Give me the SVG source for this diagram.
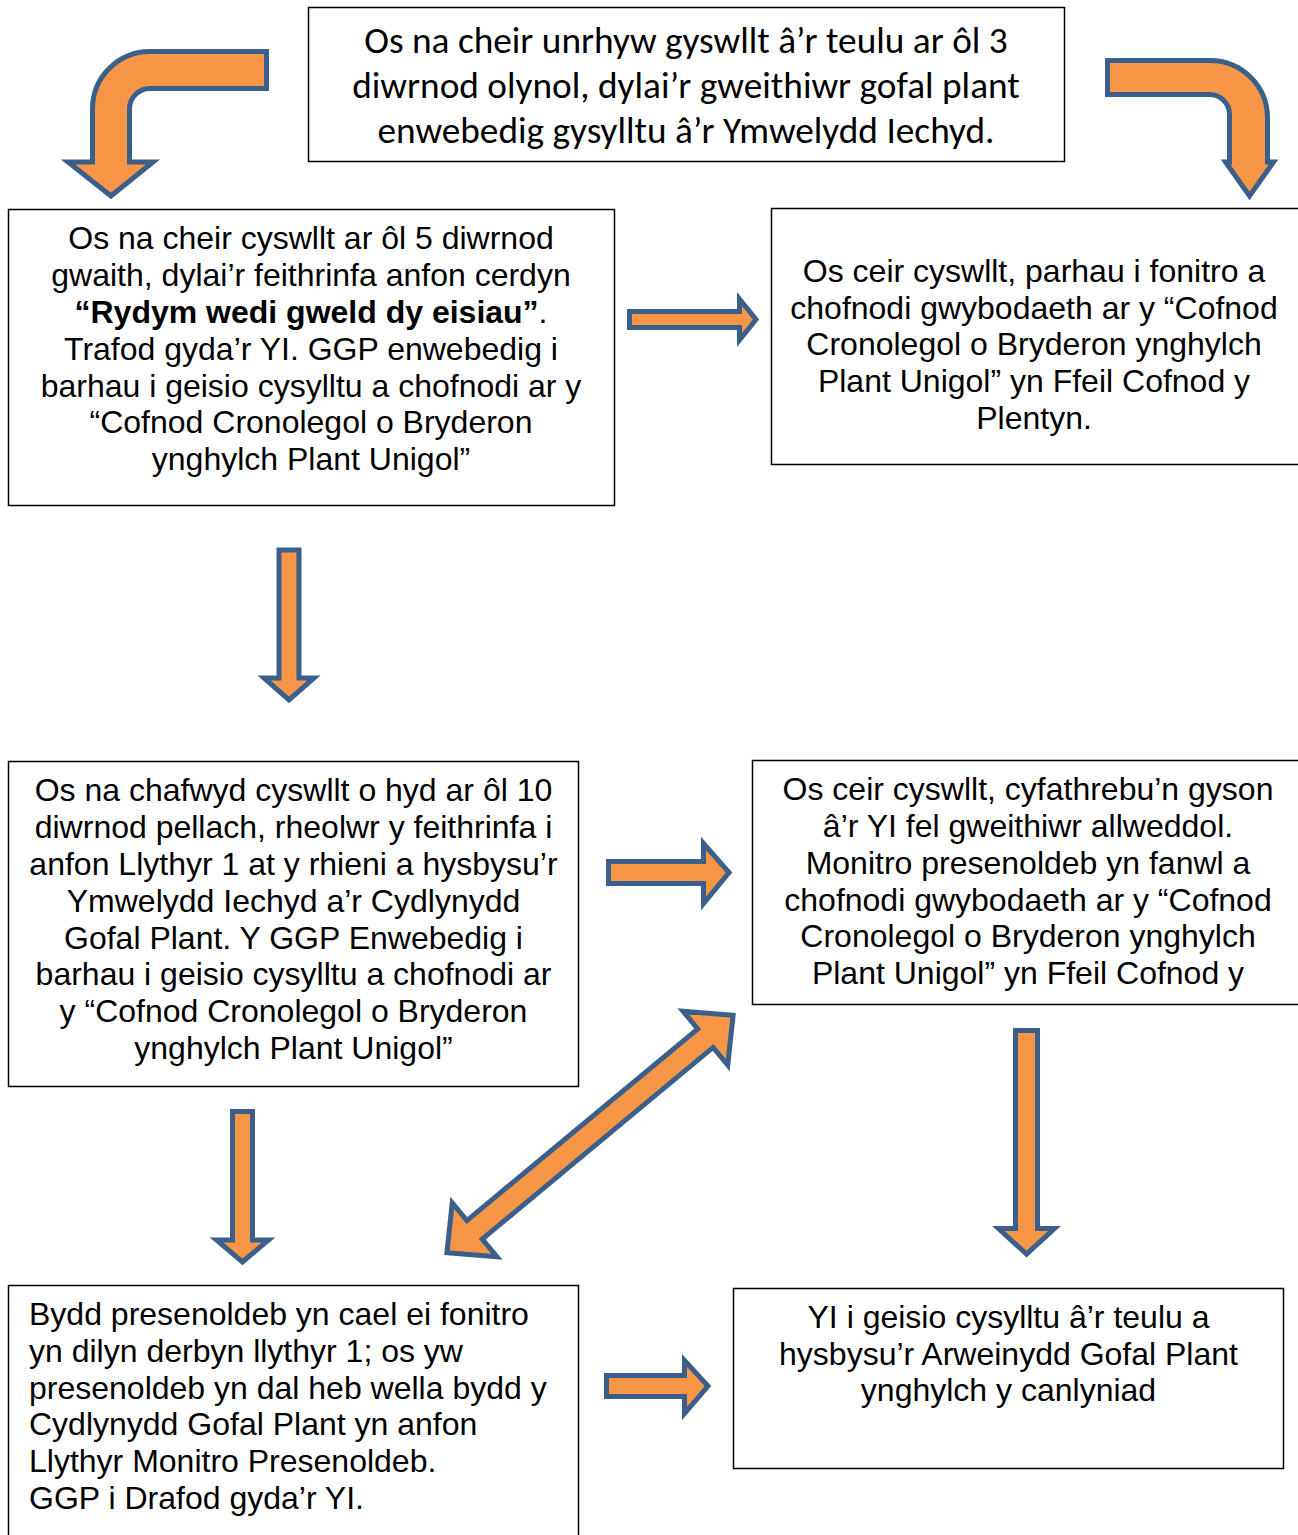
<svg xmlns="http://www.w3.org/2000/svg" width="1298" height="1535" viewBox="0 0 1298 1535">
<style>
.box{fill:#fff;stroke:#000;stroke-width:1.5}
.t{font-family:"Liberation Sans",Arial,sans-serif;font-size:32px;fill:#000}
.c{text-anchor:middle}
.cal{font-family:Carlito,Lato,"Open Sans",sans-serif;font-size:37.3px;fill:#000;text-anchor:middle}
.arr{fill:#F79646;stroke:#3A5F8B;stroke-width:5;stroke-linejoin:miter}
</style>
<rect width="1298" height="1535" fill="#fff"/>
<g id="n1">
<rect class="box" x="308.5" y="7.5" width="756" height="154"/>
<text class="cal" x="686" y="53">Os na cheir unrhyw gyswllt â’r teulu ar ôl 3</text>
<text class="cal" x="686" y="98">diwrnod olynol, dylai’r gweithiwr gofal plant</text>
<text class="cal" x="686" y="143">enwebedig gysylltu â’r Ymwelydd Iechyd.</text>
</g>
<g id="n2">
<rect class="box" x="8.5" y="209.5" width="606" height="296"/>
<text class="t c" x="311" y="249">Os na cheir cyswllt ar ôl 5 diwrnod</text>
<text class="t c" x="311" y="286">gwaith, dylai’r feithrinfa anfon cerdyn</text>
<text class="t c" x="311" y="323"><tspan font-weight="bold">“Rydym wedi gweld dy eisiau”</tspan>.</text>
<text class="t c" x="311" y="360">Trafod gyda’r YI. GGP enwebedig i</text>
<text class="t c" x="311" y="397">barhau i geisio cysylltu a chofnodi ar y</text>
<text class="t c" x="311" y="433">“Cofnod Cronolegol o Bryderon</text>
<text class="t c" x="311" y="470">ynghylch Plant Unigol”</text>
</g>
<g id="n3">
<rect class="box" x="771.5" y="208.5" width="540" height="256"/>
<text class="t c" x="1034" y="282">Os ceir cyswllt, parhau i fonitro a</text>
<text class="t c" x="1034" y="319">chofnodi gwybodaeth ar y “Cofnod</text>
<text class="t c" x="1034" y="355">Cronolegol o Bryderon ynghylch</text>
<text class="t c" x="1034" y="392">Plant Unigol” yn Ffeil Cofnod y</text>
<text class="t c" x="1034" y="429">Plentyn.</text>
</g>
<g id="n4">
<rect class="box" x="8.5" y="761.5" width="570" height="325"/>
<text class="t c" x="293.5" y="801">Os na chafwyd cyswllt o hyd ar ôl 10</text>
<text class="t c" x="293.5" y="838">diwrnod pellach, rheolwr y feithrinfa i</text>
<text class="t c" x="293.5" y="875">anfon Llythyr 1 at y rhieni a hysbysu’r</text>
<text class="t c" x="293.5" y="912">Ymwelydd Iechyd a’r Cydlynydd</text>
<text class="t c" x="293.5" y="949">Gofal Plant. Y GGP Enwebedig i</text>
<text class="t c" x="293.5" y="985">barhau i geisio cysylltu a chofnodi ar</text>
<text class="t c" x="293.5" y="1022">y “Cofnod Cronolegol o Bryderon</text>
<text class="t c" x="293.5" y="1059">ynghylch Plant Unigol”</text>
</g>
<g id="n5">
<rect class="box" x="752.5" y="760.5" width="560" height="244"/>
<text class="t c" x="1028" y="800">Os ceir cyswllt, cyfathrebu’n gyson</text>
<text class="t c" x="1028" y="837">â’r YI fel gweithiwr allweddol.</text>
<text class="t c" x="1028" y="874">Monitro presenoldeb yn fanwl a</text>
<text class="t c" x="1028" y="911">chofnodi gwybodaeth ar y “Cofnod</text>
<text class="t c" x="1028" y="947">Cronolegol o Bryderon ynghylch</text>
<text class="t c" x="1028" y="984">Plant Unigol” yn Ffeil Cofnod y</text>
</g>
<g id="n6">
<rect class="box" x="8.5" y="1285.5" width="570" height="260"/>
<text class="t" x="29" y="1325">Bydd presenoldeb yn cael ei fonitro</text>
<text class="t" x="29" y="1362">yn dilyn derbyn llythyr 1; os yw</text>
<text class="t" x="29" y="1399">presenoldeb yn dal heb wella bydd y</text>
<text class="t" x="29" y="1435">Cydlynydd Gofal Plant yn anfon</text>
<text class="t" x="29" y="1472">Llythyr Monitro Presenoldeb.</text>
<text class="t" x="29" y="1509">GGP i Drafod gyda’r YI.</text>
</g>
<g id="n7">
<rect class="box" x="733.5" y="1288.5" width="550" height="180"/>
<text class="t c" x="1008.5" y="1328">YI i geisio cysylltu â’r teulu a</text>
<text class="t c" x="1008.5" y="1365">hysbysu’r Arweinydd Gofal Plant</text>
<text class="t c" x="1008.5" y="1401">ynghylch y canlyniad</text>
</g>
<g id="connectors">
<path class="arr" d="M266.5 51.5 L150 51.5 A57.5 57.5 0 0 0 92.5 109 L92.5 162 L68 162 L111 196 L153 162 L129.5 162 L129.5 110 A20.5 20.5 0 0 1 150 88.5 L266.5 88.5 Z"/>
<path class="arr" d="M1107.5 60.5 L1210 60.5 A57.5 57.5 0 0 1 1267.5 118 L1267.5 162 L1273.5 162 L1249.5 196 L1225.5 162 L1229.5 162 L1229.5 115 A20 20 0 0 0 1209.5 94.5 L1107.5 94.5 Z"/>
<path class="arr" d="M629.5 311.5 H739.5 V299 L756 319.5 L739.5 340 V327.5 H629.5 Z"/>
<path class="arr" d="M279 550 H299 V678 H314 L289 700 L264 678 H279 Z"/>
<path class="arr" d="M608.5 861.5 H703.5 V843.5 L729 872.5 L703.5 903.5 V883.5 H608.5 Z"/>
<path class="arr" d="M232.5 1111.5 H252.5 V1240 H268.5 L242.5 1262 L216.5 1240 H232.5 Z"/>
<path class="arr" d="M1015.5 1030.5 H1037.5 V1228.5 H1054.5 L1026.5 1254 L998.5 1228.5 H1015.5 Z"/>
<path class="arr" d="M606.5 1375.5 H684.5 V1360.5 L708 1386 L684.5 1413.5 V1396.5 H606.5 Z"/>
<path class="arr" transform="translate(590 1134) rotate(-39.7)" d="M-186 0 L-150 -35 L-150 -12 L150 -12 L150 -35 L186 0 L150 35 L150 12 L-150 12 L-150 35 Z"/>
</g>
</svg>
